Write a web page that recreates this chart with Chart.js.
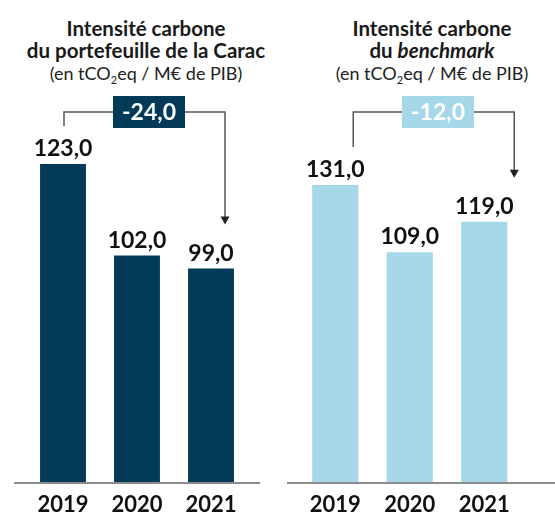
<!DOCTYPE html>
<html lang="fr">
<head>
<meta charset="utf-8">
<title>Intensité carbone</title>
<script src="https://cdn.jsdelivr.net/npm/chart.js@4/dist/chart.umd.min.js"></script>
<style>
  html, body { margin: 0; padding: 0; background: #fff; }
  body { width: 555px; height: 512px; position: relative; overflow: hidden; font-family: Lato, "Open Sans", sans-serif; }
  canvas { position: absolute; top: 0; }
  .title { position: absolute; top: 17px; text-align: center; color: #1a1a1a; font-size: 20.5px; line-height: 22px; white-space: nowrap; }
  .title b { font-weight: 700; }
  .title .unit { font-weight: 400; font-size: 18px; color: #222; }
  .title sub { font-size: 11px; vertical-align: -4px; line-height: 0; }
</style>
</head>
<body>
<div class="title" style="left:0; width:292px;">
  <b>Intensité carbone</b><br>
  <b>du portefeuille de la Carac</b><br>
  <span class="unit">(en tCO<sub>2</sub>eq / M€ de PIB)</span>
</div>
<div class="title" style="left:300px; width:264px;">
  <b>Intensité carbone</b><br>
  <b>du <i>benchmark</i></b><br>
  <span class="unit">(en tCO<sub>2</sub>eq / M€ de PIB)</span>
</div>
<canvas id="caracChart" width="277" height="512" style="left:0;"></canvas>
<canvas id="benchChart" width="278" height="512" style="left:277px;"></canvas>
<script>
// Years and carbon intensity values (tCO2eq / M€ de PIB)
const years = ['2019', '2020', '2021'];
const caracValues = [123.0, 102.0, 99.0];
const benchValues = [131.0, 109.0, 119.0];

const DARK_BLUE = '#033a57';
const LIGHT_BLUE = '#a6d8ea';

function frNumber(v) {
    return v.toFixed(1).replace('.', ',');
}

// Value labels above each bar
const valueLabels = {
    id: 'valueLabels',
    afterDatasetsDraw(chart) {
        const ctx = chart.ctx;
        const meta = chart.getDatasetMeta(0);
        const data = chart.data.datasets[0].data;
        ctx.save();
        ctx.font = 'bold 23px Lato, sans-serif';
        ctx.fillStyle = '#111';
        ctx.textAlign = 'center';
        ctx.textBaseline = 'alphabetic';
        meta.data.forEach((bar, i) => {
            ctx.fillText(frNumber(data[i]), bar.x, bar.y - 8);
        });
        ctx.restore();
    }
};

// Grey baseline under the bars
const baseline = {
    id: 'baseline',
    afterDatasetsDraw(chart, args, opts) {
        const ctx = chart.ctx;
        const area = chart.chartArea;
        ctx.save();
        ctx.strokeStyle = '#8c8c8c';
        ctx.lineWidth = 2;
        ctx.beginPath();
        ctx.moveTo(area.left - opts.extendLeft, area.bottom + 1);
        ctx.lineTo(area.right + opts.extendRight, area.bottom + 1);
        ctx.stroke();
        ctx.restore();
    }
};

// Bracket from first to last year with the change in a box
const changeBracket = {
    id: 'changeBracket',
    afterDatasetsDraw(chart, args, opts) {
        const ctx = chart.ctx;
        const x = chart.scales.x;
        const y = chart.scales.y;
        const data = chart.data.datasets[0].data;
        const last = data.length - 1;
        const change = data[last] - data[0];

        const x1 = x.getPixelForValue(0) + opts.startOffset;
        const x2 = x.getPixelForValue(last) + opts.endOffset;
        const yStart = y.getPixelForValue(data[0]) - 38;
        const yEnd = y.getPixelForValue(data[last]) - 44;
        const top = opts.top;

        ctx.save();
        ctx.strokeStyle = '#555';
        ctx.lineWidth = 1.5;
        ctx.beginPath();
        ctx.moveTo(x1, yStart);
        ctx.lineTo(x1, top);
        ctx.lineTo(x2, top);
        ctx.lineTo(x2, yEnd - 6);
        ctx.stroke();

        // arrow head
        ctx.fillStyle = '#222';
        ctx.beginPath();
        ctx.moveTo(x2 - 4.5, yEnd - 8);
        ctx.lineTo(x2 + 4.5, yEnd - 8);
        ctx.lineTo(x2, yEnd);
        ctx.closePath();
        ctx.fill();

        // change box
        const boxW = 72, boxH = 32;
        const bx = opts.boxCenter - boxW / 2;
        ctx.fillStyle = opts.boxColor;
        ctx.fillRect(bx, top - boxH / 2, boxW, boxH);
        ctx.font = 'bold 23px Lato, sans-serif';
        ctx.fillStyle = '#fff';
        ctx.textAlign = 'center';
        ctx.textBaseline = 'middle';
        ctx.fillText(frNumber(change), opts.boxCenter, top + 1);
        ctx.restore();
    }
};

function makeChart(canvasId, values, color, yMin, yMax, padLeft, padRight, extras) {
    const ctx = document.getElementById(canvasId);
    return new Chart(ctx, {
        type: 'bar',
        data: {
            labels: years,
            datasets: [{
                data: values,
                backgroundColor: color,
                borderWidth: 0,
                barPercentage: 0.62,
                categoryPercentage: 1.0
            }]
        },
        options: {
            responsive: false,
            animation: false,
            layout: {
                padding: { top: 90, left: padLeft, right: padRight, bottom: 0 }
            },
            plugins: {
                legend: { display: false },
                tooltip: { enabled: false },
                baseline: extras.baseline,
                changeBracket: extras.bracket
            },
            scales: {
                x: {
                    grid: { display: false, drawTicks: false },
                    border: { display: false },
                    ticks: {
                        color: '#111',
                        padding: 10,
                        font: { family: 'Lato, sans-serif', size: 22, weight: 'bold' }
                    },
                    afterFit(scale) { scale.height = 30; }
                },
                y: {
                    display: false,
                    min: yMin,
                    max: yMax
                }
            }
        },
        plugins: [valueLabels, baseline, changeBracket]
    });
}

makeChart('caracChart', caracValues, DARK_BLUE, 50, 140, 26, 29, {
    baseline: { extendLeft: 12, extendRight: 12 },
    bracket: { startOffset: 1, endOffset: 14, top: 112, boxCenter: 149, boxColor: DARK_BLUE }
});

makeChart('benchChart', benchValues, LIGHT_BLUE, 34, 162, 21, 33.5, {
    baseline: { extendLeft: 11, extendRight: 40 },
    bracket: { startOffset: 18, endOffset: 30, top: 112, boxCenter: 161, boxColor: LIGHT_BLUE }
});
</script>
</body>
</html>
